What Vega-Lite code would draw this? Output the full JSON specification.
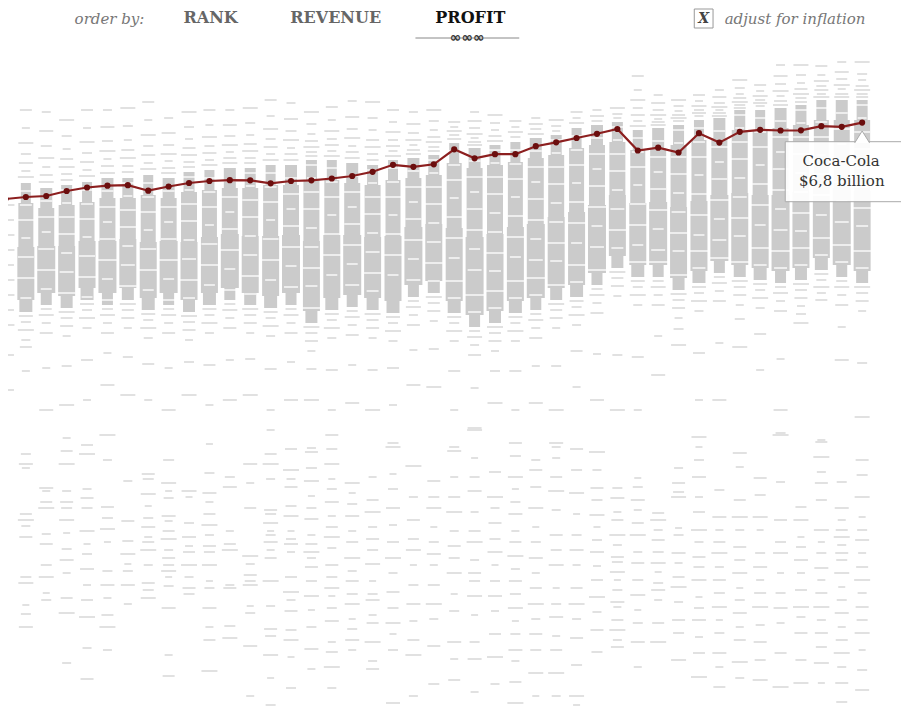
{
"$schema":"https://vega.github.io/schema/vega-lite/v6.json",
"width":893,"height":707,
"autosize":{"type":"none"},
"padding":{"left":8,"top":0,"right":0,"bottom":0},
"background":"white",
"config":{"view":{"stroke":null}},
"datasets":{
"core":[
{"yr":1964,"p":24.2,"q":22.2,"w":10},{"yr":1964,"p":22.2,"q":17.8,"w":15},{"yr":1964,"p":17.8,"q":12.5,"w":17},{"yr":1964,"p":12.5,"q":11.3,"w":13},
{"yr":1965,"p":23.7,"q":21.7,"w":12},{"yr":1965,"p":21.7,"q":17.9,"w":16},{"yr":1965,"p":17.9,"q":13.2,"w":18},{"yr":1965,"p":13.2,"q":12.0,"w":11},
{"yr":1966,"p":24.0,"q":22.0,"w":11},{"yr":1966,"p":22.0,"q":17.9,"w":16},{"yr":1966,"p":17.9,"q":12.9,"w":17},{"yr":1966,"p":12.9,"q":11.7,"w":12},
{"yr":1967,"p":24.3,"q":22.3,"w":10},{"yr":1967,"p":22.3,"q":18.4,"w":15},{"yr":1967,"p":18.4,"q":13.7,"w":17},{"yr":1967,"p":13.7,"q":12.5,"w":13},
{"yr":1968,"p":24.7,"q":22.7,"w":12},{"yr":1968,"p":22.7,"q":18.4,"w":16},{"yr":1968,"p":18.4,"q":13.2,"w":18},{"yr":1968,"p":13.2,"q":12.0,"w":11},
{"yr":1969,"p":24.7,"q":22.7,"w":11},{"yr":1969,"p":22.7,"q":18.6,"w":16},{"yr":1969,"p":18.6,"q":13.7,"w":17},{"yr":1969,"p":13.7,"q":12.5,"w":12},
{"yr":1970,"p":25.0,"q":23.0,"w":10},{"yr":1970,"p":23.0,"q":18.3,"w":15},{"yr":1970,"p":18.3,"q":12.7,"w":17},{"yr":1970,"p":12.7,"q":11.5,"w":13},
{"yr":1971,"p":24.7,"q":22.7,"w":12},{"yr":1971,"p":22.7,"q":18.4,"w":16},{"yr":1971,"p":18.4,"q":13.2,"w":18},{"yr":1971,"p":13.2,"q":12.0,"w":11},
{"yr":1972,"p":25.3,"q":23.3,"w":11},{"yr":1972,"p":23.3,"q":18.3,"w":16},{"yr":1972,"p":18.3,"q":12.5,"w":17},{"yr":1972,"p":12.5,"q":11.3,"w":12},
{"yr":1973,"p":25.5,"q":23.5,"w":10},{"yr":1973,"p":23.5,"q":18.8,"w":15},{"yr":1973,"p":18.8,"q":13.2,"w":17},{"yr":1973,"p":13.2,"q":12.0,"w":13},
{"yr":1974,"p":25.7,"q":23.7,"w":12},{"yr":1974,"p":23.7,"q":19.1,"w":16},{"yr":1974,"p":19.1,"q":13.7,"w":18},{"yr":1974,"p":13.7,"q":12.5,"w":11},
{"yr":1975,"p":25.7,"q":23.7,"w":11},{"yr":1975,"p":23.7,"q":18.9,"w":16},{"yr":1975,"p":18.9,"q":13.2,"w":17},{"yr":1975,"p":13.2,"q":12.0,"w":12},
{"yr":1976,"p":26.0,"q":24.0,"w":10},{"yr":1976,"p":24.0,"q":18.9,"w":15},{"yr":1976,"p":18.9,"q":12.9,"w":17},{"yr":1976,"p":12.9,"q":11.7,"w":13},
{"yr":1977,"p":26.0,"q":24.0,"w":12},{"yr":1977,"p":24.0,"q":19.0,"w":16},{"yr":1977,"p":19.0,"q":13.2,"w":18},{"yr":1977,"p":13.2,"q":12.0,"w":11},
{"yr":1978,"p":26.5,"q":24.5,"w":11},{"yr":1978,"p":24.5,"q":18.4,"w":16},{"yr":1978,"p":18.4,"q":11.4,"w":17},{"yr":1978,"p":11.4,"q":10.2,"w":12},
{"yr":1979,"p":26.5,"q":24.5,"w":10},{"yr":1979,"p":24.5,"q":19.0,"w":15},{"yr":1979,"p":19.0,"q":12.7,"w":17},{"yr":1979,"p":12.7,"q":11.5,"w":13},
{"yr":1980,"p":26.2,"q":24.2,"w":12},{"yr":1980,"p":24.2,"q":19.0,"w":16},{"yr":1980,"p":19.0,"q":13.0,"w":18},{"yr":1980,"p":13.0,"q":11.8,"w":11},
{"yr":1981,"p":26.0,"q":24.0,"w":11},{"yr":1981,"p":24.0,"q":18.8,"w":16},{"yr":1981,"p":18.8,"q":12.7,"w":17},{"yr":1981,"p":12.7,"q":11.5,"w":12},
{"yr":1982,"p":26.5,"q":24.5,"w":10},{"yr":1982,"p":24.5,"q":18.9,"w":15},{"yr":1982,"p":18.9,"q":12.4,"w":17},{"yr":1982,"p":12.4,"q":11.2,"w":13},
{"yr":1983,"p":26.7,"q":24.7,"w":12},{"yr":1983,"p":24.7,"q":19.8,"w":16},{"yr":1983,"p":19.8,"q":14.0,"w":18},{"yr":1983,"p":14.0,"q":12.8,"w":11},
{"yr":1984,"p":27.0,"q":25.0,"w":11},{"yr":1984,"p":25.0,"q":20.1,"w":16},{"yr":1984,"p":20.1,"q":14.4,"w":17},{"yr":1984,"p":14.4,"q":13.2,"w":12},
{"yr":1985,"p":28.2,"q":26.2,"w":10},{"yr":1985,"p":26.2,"q":19.7,"w":15},{"yr":1985,"p":19.7,"q":12.4,"w":17},{"yr":1985,"p":12.4,"q":11.2,"w":13},
{"yr":1986,"p":27.7,"q":25.7,"w":12},{"yr":1986,"p":25.7,"q":18.8,"w":16},{"yr":1986,"p":18.8,"q":11.0,"w":18},{"yr":1986,"p":11.0,"q":9.8,"w":11},
{"yr":1987,"p":28.0,"q":26.0,"w":11},{"yr":1987,"p":26.0,"q":19.1,"w":16},{"yr":1987,"p":19.1,"q":11.4,"w":17},{"yr":1987,"p":11.4,"q":10.2,"w":12},
{"yr":1988,"p":28.3,"q":26.3,"w":10},{"yr":1988,"p":26.3,"q":19.8,"w":15},{"yr":1988,"p":19.8,"q":12.4,"w":17},{"yr":1988,"p":12.4,"q":11.2,"w":13},
{"yr":1989,"p":28.7,"q":26.7,"w":12},{"yr":1989,"p":26.7,"q":20.1,"w":16},{"yr":1989,"p":20.1,"q":12.7,"w":18},{"yr":1989,"p":12.7,"q":11.5,"w":11},
{"yr":1990,"p":29.0,"q":27.0,"w":11},{"yr":1990,"p":27.0,"q":20.8,"w":16},{"yr":1990,"p":20.8,"q":13.7,"w":17},{"yr":1990,"p":13.7,"q":12.5,"w":12},
{"yr":1991,"p":29.7,"q":27.7,"w":10},{"yr":1991,"p":27.7,"q":21.3,"w":15},{"yr":1991,"p":21.3,"q":14.0,"w":17},{"yr":1991,"p":14.0,"q":12.8,"w":13},
{"yr":1992,"p":30.0,"q":28.0,"w":12},{"yr":1992,"p":28.0,"q":22.0,"w":16},{"yr":1992,"p":22.0,"q":15.2,"w":18},{"yr":1992,"p":15.2,"q":14.0,"w":11},
{"yr":1993,"p":30.3,"q":28.3,"w":11},{"yr":1993,"p":28.3,"q":23.0,"w":16},{"yr":1993,"p":23.0,"q":16.9,"w":17},{"yr":1993,"p":16.9,"q":15.7,"w":12},
{"yr":1994,"p":29.5,"q":27.5,"w":10},{"yr":1994,"p":27.5,"q":22.2,"w":15},{"yr":1994,"p":22.2,"q":16.0,"w":17},{"yr":1994,"p":16.0,"q":14.8,"w":13},
{"yr":1995,"p":29.7,"q":27.7,"w":12},{"yr":1995,"p":27.7,"q":22.3,"w":16},{"yr":1995,"p":22.3,"q":16.0,"w":18},{"yr":1995,"p":16.0,"q":14.8,"w":11},
{"yr":1996,"p":30.0,"q":28.0,"w":11},{"yr":1996,"p":28.0,"q":21.8,"w":16},{"yr":1996,"p":21.8,"q":14.7,"w":17},{"yr":1996,"p":14.7,"q":13.5,"w":12},
{"yr":1997,"p":30.5,"q":28.5,"w":10},{"yr":1997,"p":28.5,"q":22.4,"w":15},{"yr":1997,"p":22.4,"q":15.4,"w":17},{"yr":1997,"p":15.4,"q":14.2,"w":13},
{"yr":1998,"p":30.7,"q":28.7,"w":12},{"yr":1998,"p":28.7,"q":23.0,"w":16},{"yr":1998,"p":23.0,"q":16.4,"w":18},{"yr":1998,"p":16.4,"q":15.2,"w":11},
{"yr":1999,"p":31.5,"q":29.5,"w":11},{"yr":1999,"p":29.5,"q":23.2,"w":16},{"yr":1999,"p":23.2,"q":16.0,"w":17},{"yr":1999,"p":16.0,"q":14.8,"w":12},
{"yr":2000,"p":31.5,"q":29.5,"w":10},{"yr":2000,"p":29.5,"q":23.0,"w":15},{"yr":2000,"p":23.0,"q":15.7,"w":17},{"yr":2000,"p":15.7,"q":14.5,"w":13},
{"yr":2001,"p":31.7,"q":29.7,"w":12},{"yr":2001,"p":29.7,"q":23.0,"w":16},{"yr":2001,"p":23.0,"q":15.4,"w":18},{"yr":2001,"p":15.4,"q":14.2,"w":11},
{"yr":2002,"p":32.0,"q":30.0,"w":11},{"yr":2002,"p":30.0,"q":23.3,"w":16},{"yr":2002,"p":23.3,"q":15.7,"w":17},{"yr":2002,"p":15.7,"q":14.5,"w":12},
{"yr":2003,"p":32.5,"q":30.5,"w":10},{"yr":2003,"p":30.5,"q":24.0,"w":15},{"yr":2003,"p":24.0,"q":16.7,"w":17},{"yr":2003,"p":16.7,"q":15.5,"w":13},
{"yr":2004,"p":32.5,"q":30.5,"w":12},{"yr":2004,"p":30.5,"q":23.7,"w":16},{"yr":2004,"p":23.7,"q":16.0,"w":18},{"yr":2004,"p":16.0,"q":14.8,"w":11},
{"yr":2005,"p":32.5,"q":30.5,"w":11},{"yr":2005,"p":30.5,"q":23.4,"w":16},{"yr":2005,"p":23.4,"q":15.4,"w":17},{"yr":2005,"p":15.4,"q":14.2,"w":12}
],
"stripe":[
{"yr":1964,"p":23.4,"w":18},{"yr":1964,"p":22.0,"w":12},{"yr":1964,"p":20.5,"w":20},{"yr":1964,"p":18.7,"w":9},{"yr":1964,"p":16.8,"w":16},{"yr":1964,"p":14.7,"w":20},{"yr":1964,"p":12.7,"w":11},
{"yr":1965,"p":22.4,"w":12},{"yr":1965,"p":20.8,"w":20},{"yr":1965,"p":19.3,"w":9},{"yr":1965,"p":17.6,"w":16},{"yr":1965,"p":15.5,"w":20},{"yr":1965,"p":13.6,"w":11},
{"yr":1966,"p":23.5,"w":20},{"yr":1966,"p":22.2,"w":9},{"yr":1966,"p":20.8,"w":16},{"yr":1966,"p":19.1,"w":20},{"yr":1966,"p":17.2,"w":11},{"yr":1966,"p":15.3,"w":14},{"yr":1966,"p":13.2,"w":18},
{"yr":1967,"p":23.5,"w":18},{"yr":1967,"p":22.1,"w":12},{"yr":1967,"p":20.6,"w":20},{"yr":1967,"p":18.8,"w":9},{"yr":1967,"p":16.9,"w":16},{"yr":1967,"p":14.8,"w":20},{"yr":1967,"p":12.8,"w":11},
{"yr":1968,"p":23.4,"w":12},{"yr":1968,"p":21.8,"w":20},{"yr":1968,"p":20.3,"w":9},{"yr":1968,"p":18.6,"w":16},{"yr":1968,"p":16.5,"w":20},{"yr":1968,"p":14.6,"w":11},{"yr":1968,"p":12.5,"w":14},
{"yr":1969,"p":24.2,"w":20},{"yr":1969,"p":22.9,"w":9},{"yr":1969,"p":21.5,"w":16},{"yr":1969,"p":19.8,"w":20},{"yr":1969,"p":17.9,"w":11},{"yr":1969,"p":16.0,"w":14},{"yr":1969,"p":13.9,"w":18},
{"yr":1970,"p":24.2,"w":18},{"yr":1970,"p":22.8,"w":12},{"yr":1970,"p":21.3,"w":20},{"yr":1970,"p":19.5,"w":9},{"yr":1970,"p":17.6,"w":16},{"yr":1970,"p":15.5,"w":20},{"yr":1970,"p":13.5,"w":11},
{"yr":1971,"p":23.4,"w":12},{"yr":1971,"p":21.8,"w":20},{"yr":1971,"p":20.3,"w":9},{"yr":1971,"p":18.6,"w":16},{"yr":1971,"p":16.5,"w":20},{"yr":1971,"p":14.6,"w":11},{"yr":1971,"p":12.5,"w":14},
{"yr":1972,"p":24.8,"w":20},{"yr":1972,"p":23.5,"w":9},{"yr":1972,"p":22.1,"w":16},{"yr":1972,"p":20.4,"w":20},{"yr":1972,"p":18.5,"w":11},{"yr":1972,"p":16.6,"w":14},{"yr":1972,"p":14.5,"w":18},{"yr":1972,"p":12.7,"w":12},
{"yr":1973,"p":24.7,"w":18},{"yr":1973,"p":23.3,"w":12},{"yr":1973,"p":21.8,"w":20},{"yr":1973,"p":20.0,"w":9},{"yr":1973,"p":18.1,"w":16},{"yr":1973,"p":16.0,"w":20},{"yr":1973,"p":14.0,"w":11},
{"yr":1974,"p":24.4,"w":12},{"yr":1974,"p":22.8,"w":20},{"yr":1974,"p":21.3,"w":9},{"yr":1974,"p":19.6,"w":16},{"yr":1974,"p":17.5,"w":20},{"yr":1974,"p":15.6,"w":11},{"yr":1974,"p":13.5,"w":14},
{"yr":1975,"p":25.2,"w":20},{"yr":1975,"p":23.9,"w":9},{"yr":1975,"p":22.5,"w":16},{"yr":1975,"p":20.8,"w":20},{"yr":1975,"p":18.9,"w":11},{"yr":1975,"p":17.0,"w":14},{"yr":1975,"p":14.9,"w":18},{"yr":1975,"p":13.1,"w":12},
{"yr":1976,"p":25.2,"w":18},{"yr":1976,"p":23.8,"w":12},{"yr":1976,"p":22.3,"w":20},{"yr":1976,"p":20.5,"w":9},{"yr":1976,"p":18.6,"w":16},{"yr":1976,"p":16.5,"w":20},{"yr":1976,"p":14.5,"w":11},
{"yr":1977,"p":24.7,"w":12},{"yr":1977,"p":23.1,"w":20},{"yr":1977,"p":21.6,"w":9},{"yr":1977,"p":19.9,"w":16},{"yr":1977,"p":17.8,"w":20},{"yr":1977,"p":15.9,"w":11},{"yr":1977,"p":13.8,"w":14},
{"yr":1978,"p":26.0,"w":20},{"yr":1978,"p":24.7,"w":9},{"yr":1978,"p":23.3,"w":16},{"yr":1978,"p":21.6,"w":20},{"yr":1978,"p":19.7,"w":11},{"yr":1978,"p":17.8,"w":14},{"yr":1978,"p":15.7,"w":18},{"yr":1978,"p":13.9,"w":12},{"yr":1978,"p":11.7,"w":20},
{"yr":1979,"p":25.7,"w":18},{"yr":1979,"p":24.3,"w":12},{"yr":1979,"p":22.8,"w":20},{"yr":1979,"p":21.0,"w":9},{"yr":1979,"p":19.1,"w":16},{"yr":1979,"p":17.0,"w":20},{"yr":1979,"p":15.0,"w":11},
{"yr":1980,"p":24.9,"w":12},{"yr":1980,"p":23.3,"w":20},{"yr":1980,"p":21.8,"w":9},{"yr":1980,"p":20.1,"w":16},{"yr":1980,"p":18.0,"w":20},{"yr":1980,"p":16.1,"w":11},{"yr":1980,"p":14.0,"w":14},
{"yr":1981,"p":25.5,"w":20},{"yr":1981,"p":24.2,"w":9},{"yr":1981,"p":22.8,"w":16},{"yr":1981,"p":21.1,"w":20},{"yr":1981,"p":19.2,"w":11},{"yr":1981,"p":17.3,"w":14},{"yr":1981,"p":15.2,"w":18},{"yr":1981,"p":13.4,"w":12},
{"yr":1982,"p":25.7,"w":18},{"yr":1982,"p":24.3,"w":12},{"yr":1982,"p":22.8,"w":20},{"yr":1982,"p":21.0,"w":9},{"yr":1982,"p":19.1,"w":16},{"yr":1982,"p":17.0,"w":20},{"yr":1982,"p":15.0,"w":11},
{"yr":1983,"p":25.4,"w":12},{"yr":1983,"p":23.8,"w":20},{"yr":1983,"p":22.3,"w":9},{"yr":1983,"p":20.6,"w":16},{"yr":1983,"p":18.5,"w":20},{"yr":1983,"p":16.6,"w":11},{"yr":1983,"p":14.5,"w":14},
{"yr":1984,"p":26.5,"w":20},{"yr":1984,"p":25.2,"w":9},{"yr":1984,"p":23.8,"w":16},{"yr":1984,"p":22.1,"w":20},{"yr":1984,"p":20.2,"w":11},{"yr":1984,"p":18.3,"w":14},{"yr":1984,"p":16.2,"w":18},{"yr":1984,"p":14.4,"w":12},
{"yr":1985,"p":27.4,"w":18},{"yr":1985,"p":26.0,"w":12},{"yr":1985,"p":24.5,"w":20},{"yr":1985,"p":22.7,"w":9},{"yr":1985,"p":20.8,"w":16},{"yr":1985,"p":18.7,"w":20},{"yr":1985,"p":16.7,"w":11},{"yr":1985,"p":14.4,"w":20},{"yr":1985,"p":12.7,"w":13},
{"yr":1986,"p":26.4,"w":12},{"yr":1986,"p":24.8,"w":20},{"yr":1986,"p":23.3,"w":9},{"yr":1986,"p":21.6,"w":16},{"yr":1986,"p":19.5,"w":20},{"yr":1986,"p":17.6,"w":11},{"yr":1986,"p":15.5,"w":14},{"yr":1986,"p":13.0,"w":20},{"yr":1986,"p":11.3,"w":13},
{"yr":1987,"p":27.5,"w":20},{"yr":1987,"p":26.2,"w":9},{"yr":1987,"p":24.8,"w":16},{"yr":1987,"p":23.1,"w":20},{"yr":1987,"p":21.2,"w":11},{"yr":1987,"p":19.3,"w":14},{"yr":1987,"p":17.2,"w":18},{"yr":1987,"p":15.4,"w":12},{"yr":1987,"p":13.4,"w":20},{"yr":1987,"p":11.7,"w":13},
{"yr":1988,"p":27.5,"w":18},{"yr":1988,"p":26.1,"w":12},{"yr":1988,"p":24.6,"w":20},{"yr":1988,"p":22.8,"w":9},{"yr":1988,"p":20.9,"w":16},{"yr":1988,"p":18.8,"w":20},{"yr":1988,"p":16.8,"w":11},{"yr":1988,"p":14.4,"w":20},{"yr":1988,"p":12.7,"w":13},
{"yr":1989,"p":27.4,"w":12},{"yr":1989,"p":25.8,"w":20},{"yr":1989,"p":24.3,"w":9},{"yr":1989,"p":22.6,"w":16},{"yr":1989,"p":20.5,"w":20},{"yr":1989,"p":18.6,"w":11},{"yr":1989,"p":16.5,"w":14},{"yr":1989,"p":14.7,"w":20},{"yr":1989,"p":13.0,"w":13},
{"yr":1990,"p":28.5,"w":20},{"yr":1990,"p":27.2,"w":9},{"yr":1990,"p":25.8,"w":16},{"yr":1990,"p":24.1,"w":20},{"yr":1990,"p":22.2,"w":11},{"yr":1990,"p":20.3,"w":14},{"yr":1990,"p":18.2,"w":18},{"yr":1990,"p":16.4,"w":12},{"yr":1990,"p":14.0,"w":20},
{"yr":1991,"p":28.9,"w":18},{"yr":1991,"p":27.5,"w":12},{"yr":1991,"p":26.0,"w":20},{"yr":1991,"p":24.2,"w":9},{"yr":1991,"p":22.3,"w":16},{"yr":1991,"p":20.2,"w":20},{"yr":1991,"p":18.2,"w":11},{"yr":1991,"p":16.0,"w":20},{"yr":1991,"p":14.3,"w":13},
{"yr":1992,"p":28.7,"w":12},{"yr":1992,"p":27.1,"w":20},{"yr":1992,"p":25.6,"w":9},{"yr":1992,"p":23.9,"w":16},{"yr":1992,"p":21.8,"w":20},{"yr":1992,"p":19.9,"w":11},{"yr":1992,"p":17.8,"w":14},{"yr":1992,"p":15.5,"w":20},
{"yr":1993,"p":29.8,"w":20},{"yr":1993,"p":28.5,"w":9},{"yr":1993,"p":27.1,"w":16},{"yr":1993,"p":25.4,"w":20},{"yr":1993,"p":23.5,"w":11},{"yr":1993,"p":21.6,"w":14},{"yr":1993,"p":19.5,"w":18},{"yr":1993,"p":17.7,"w":12},
{"yr":1994,"p":28.7,"w":18},{"yr":1994,"p":27.3,"w":12},{"yr":1994,"p":25.8,"w":20},{"yr":1994,"p":24.0,"w":9},{"yr":1994,"p":22.1,"w":16},{"yr":1994,"p":20.0,"w":20},{"yr":1994,"p":18.0,"w":11},{"yr":1994,"p":16.3,"w":20},
{"yr":1995,"p":28.4,"w":12},{"yr":1995,"p":26.8,"w":20},{"yr":1995,"p":25.3,"w":9},{"yr":1995,"p":23.6,"w":16},{"yr":1995,"p":21.5,"w":20},{"yr":1995,"p":19.6,"w":11},{"yr":1995,"p":17.5,"w":14},{"yr":1995,"p":16.3,"w":20},
{"yr":1996,"p":29.5,"w":20},{"yr":1996,"p":28.2,"w":9},{"yr":1996,"p":26.8,"w":16},{"yr":1996,"p":25.1,"w":20},{"yr":1996,"p":23.2,"w":11},{"yr":1996,"p":21.3,"w":14},{"yr":1996,"p":19.2,"w":18},{"yr":1996,"p":17.4,"w":12},{"yr":1996,"p":15.0,"w":20},
{"yr":1997,"p":29.7,"w":18},{"yr":1997,"p":28.3,"w":12},{"yr":1997,"p":26.8,"w":20},{"yr":1997,"p":25.0,"w":9},{"yr":1997,"p":23.1,"w":16},{"yr":1997,"p":21.0,"w":20},{"yr":1997,"p":19.0,"w":11},{"yr":1997,"p":17.4,"w":20},{"yr":1997,"p":15.7,"w":13},
{"yr":1998,"p":29.4,"w":12},{"yr":1998,"p":27.8,"w":20},{"yr":1998,"p":26.3,"w":9},{"yr":1998,"p":24.6,"w":16},{"yr":1998,"p":22.5,"w":20},{"yr":1998,"p":20.6,"w":11},{"yr":1998,"p":18.5,"w":14},{"yr":1998,"p":16.7,"w":20},
{"yr":1999,"p":31.0,"w":20},{"yr":1999,"p":29.7,"w":9},{"yr":1999,"p":28.3,"w":16},{"yr":1999,"p":26.6,"w":20},{"yr":1999,"p":24.7,"w":11},{"yr":1999,"p":22.8,"w":14},{"yr":1999,"p":20.7,"w":18},{"yr":1999,"p":18.9,"w":12},{"yr":1999,"p":16.3,"w":20},
{"yr":2000,"p":30.7,"w":18},{"yr":2000,"p":29.3,"w":12},{"yr":2000,"p":27.8,"w":20},{"yr":2000,"p":26.0,"w":9},{"yr":2000,"p":24.1,"w":16},{"yr":2000,"p":22.0,"w":20},{"yr":2000,"p":20.0,"w":11},{"yr":2000,"p":17.7,"w":20},{"yr":2000,"p":16.0,"w":13},
{"yr":2001,"p":30.4,"w":12},{"yr":2001,"p":28.8,"w":20},{"yr":2001,"p":27.3,"w":9},{"yr":2001,"p":25.6,"w":16},{"yr":2001,"p":23.5,"w":20},{"yr":2001,"p":21.6,"w":11},{"yr":2001,"p":19.5,"w":14},{"yr":2001,"p":17.4,"w":20},{"yr":2001,"p":15.7,"w":13},
{"yr":2002,"p":31.5,"w":20},{"yr":2002,"p":30.2,"w":9},{"yr":2002,"p":28.8,"w":16},{"yr":2002,"p":27.1,"w":20},{"yr":2002,"p":25.2,"w":11},{"yr":2002,"p":23.3,"w":14},{"yr":2002,"p":21.2,"w":18},{"yr":2002,"p":19.4,"w":12},{"yr":2002,"p":17.7,"w":20},{"yr":2002,"p":16.0,"w":13},
{"yr":2003,"p":31.7,"w":18},{"yr":2003,"p":30.3,"w":12},{"yr":2003,"p":28.8,"w":20},{"yr":2003,"p":27.0,"w":9},{"yr":2003,"p":25.1,"w":16},{"yr":2003,"p":23.0,"w":20},{"yr":2003,"p":21.0,"w":11},{"yr":2003,"p":18.7,"w":20},{"yr":2003,"p":17.0,"w":13},
{"yr":2004,"p":31.2,"w":12},{"yr":2004,"p":29.6,"w":20},{"yr":2004,"p":28.1,"w":9},{"yr":2004,"p":26.4,"w":16},{"yr":2004,"p":24.3,"w":20},{"yr":2004,"p":22.4,"w":11},{"yr":2004,"p":20.3,"w":14},{"yr":2004,"p":18.0,"w":20},{"yr":2004,"p":16.3,"w":13},
{"yr":2005,"p":32.0,"w":20},{"yr":2005,"p":30.7,"w":9},{"yr":2005,"p":29.3,"w":16},{"yr":2005,"p":27.6,"w":20},{"yr":2005,"p":25.7,"w":11},{"yr":2005,"p":23.8,"w":14},{"yr":2005,"p":21.7,"w":18},{"yr":2005,"p":19.9,"w":12},{"yr":2005,"p":17.4,"w":20},{"yr":2005,"p":15.7,"w":13}
],
"dash":[
{"yr":1963,"p":22.0,"w":18},{"yr":1963,"p":20.5,"w":17},{"yr":1963,"p":19.0,"w":18},{"yr":1963,"p":17.5,"w":18},{"yr":1963,"p":16.0,"w":17},{"yr":1963,"p":14.5,"w":18},{"yr":1963,"p":13.0,"w":18},{"yr":1963,"p":11.5,"w":17},{"yr":1963,"p":10.0,"w":18},{"yr":1963,"p":7.0,"w":17},{"yr":1963,"p":3.5,"w":17},
{"yr":1964,"p":31.5,"w":12},{"yr":1964,"p":29.7,"w":8},{"yr":1964,"p":28.2,"w":15},{"yr":1964,"p":27.1,"w":10},{"yr":1964,"p":26.2,"w":14},{"yr":1964,"p":25.4,"w":9},{"yr":1964,"p":24.8,"w":16},
{"yr":1964,"p":10.9,"w":14},{"yr":1964,"p":10.3,"w":10},{"yr":1964,"p":9.5,"w":16},{"yr":1964,"p":8.5,"w":9},{"yr":1964,"p":7.8,"w":12},{"yr":1964,"p":5.4,"w":8},
{"yr":1964,"p":-2.9,"w":10},{"yr":1964,"p":-3.9,"w":14},{"yr":1964,"p":-4.3,"w":8},{"yr":1964,"p":-8.9,"w":12},{"yr":1964,"p":-9.5,"w":16},{"yr":1964,"p":-10.1,"w":9},{"yr":1964,"p":-11.2,"w":13},{"yr":1964,"p":-15.2,"w":11},{"yr":1964,"p":-15.8,"w":15},{"yr":1964,"p":-18.0,"w":7},{"yr":1964,"p":-18.9,"w":10},{"yr":1964,"p":-20.2,"w":14},
{"yr":1965,"p":31.3,"w":9},{"yr":1965,"p":29.4,"w":14},{"yr":1965,"p":27.9,"w":11},{"yr":1965,"p":26.7,"w":16},{"yr":1965,"p":25.8,"w":8},{"yr":1965,"p":25.0,"w":13},{"yr":1965,"p":24.3,"w":15},
{"yr":1965,"p":11.6,"w":11},{"yr":1965,"p":11.0,"w":15},{"yr":1965,"p":10.2,"w":9},{"yr":1965,"p":9.2,"w":13},{"yr":1965,"p":5.7,"w":8},{"yr":1965,"p":1.5,"w":14},
{"yr":1965,"p":-6.3,"w":14},{"yr":1965,"p":-6.6,"w":8},{"yr":1965,"p":-7.7,"w":12},{"yr":1965,"p":-8.3,"w":16},{"yr":1965,"p":-10.9,"w":9},{"yr":1965,"p":-11.9,"w":13},{"yr":1965,"p":-14.0,"w":11},{"yr":1965,"p":-15.2,"w":15},{"yr":1965,"p":-16.8,"w":7},{"yr":1965,"p":-17.5,"w":10},
{"yr":1966,"p":30.5,"w":15},{"yr":1966,"p":28.9,"w":10},{"yr":1966,"p":27.6,"w":8},{"yr":1966,"p":26.6,"w":13},{"yr":1966,"p":25.8,"w":16},{"yr":1966,"p":25.1,"w":11},{"yr":1966,"p":24.5,"w":12},
{"yr":1966,"p":11.3,"w":16},{"yr":1966,"p":10.7,"w":12},{"yr":1966,"p":9.9,"w":13},{"yr":1966,"p":8.9,"w":8},{"yr":1966,"p":5.9,"w":10},{"yr":1966,"p":2.0,"w":15},
{"yr":1966,"p":-1.3,"w":8},{"yr":1966,"p":-2.6,"w":12},{"yr":1966,"p":-3.9,"w":16},{"yr":1966,"p":-6.6,"w":9},{"yr":1966,"p":-7.7,"w":13},{"yr":1966,"p":-8.3,"w":11},{"yr":1966,"p":-9.5,"w":15},{"yr":1966,"p":-10.8,"w":7},{"yr":1966,"p":-12.4,"w":10},{"yr":1966,"p":-13.5,"w":14},{"yr":1966,"p":-14.8,"w":8},{"yr":1966,"p":-17.3,"w":12},{"yr":1966,"p":-18.8,"w":16},{"yr":1966,"p":-23.8,"w":9},
{"yr":1967,"p":31.5,"w":12},{"yr":1967,"p":29.7,"w":8},{"yr":1967,"p":28.3,"w":15},{"yr":1967,"p":27.2,"w":10},{"yr":1967,"p":26.3,"w":14},{"yr":1967,"p":25.5,"w":9},{"yr":1967,"p":24.9,"w":16},
{"yr":1967,"p":12.1,"w":14},{"yr":1967,"p":11.5,"w":10},{"yr":1967,"p":10.7,"w":16},{"yr":1967,"p":9.7,"w":9},{"yr":1967,"p":6.5,"w":12},{"yr":1967,"p":2.5,"w":8},
{"yr":1967,"p":-2.0,"w":12},{"yr":1967,"p":-2.9,"w":16},{"yr":1967,"p":-6.4,"w":9},{"yr":1967,"p":-7.3,"w":13},{"yr":1967,"p":-8.3,"w":11},{"yr":1967,"p":-10.6,"w":15},{"yr":1967,"p":-11.9,"w":7},{"yr":1967,"p":-12.9,"w":10},{"yr":1967,"p":-14.4,"w":14},{"yr":1967,"p":-16.0,"w":8},{"yr":1967,"p":-17.5,"w":12},{"yr":1967,"p":-19.2,"w":16},{"yr":1967,"p":-22.3,"w":9},{"yr":1967,"p":-25.4,"w":13},
{"yr":1968,"p":31.5,"w":9},{"yr":1968,"p":29.8,"w":14},{"yr":1968,"p":28.4,"w":11},{"yr":1968,"p":27.4,"w":16},{"yr":1968,"p":26.6,"w":8},{"yr":1968,"p":25.9,"w":13},{"yr":1968,"p":25.2,"w":15},
{"yr":1968,"p":11.6,"w":11},{"yr":1968,"p":11.0,"w":15},{"yr":1968,"p":10.2,"w":9},{"yr":1968,"p":9.2,"w":13},{"yr":1968,"p":7.2,"w":8},{"yr":1968,"p":4.0,"w":14},
{"yr":1968,"p":-1.0,"w":16},{"yr":1968,"p":-3.5,"w":9},{"yr":1968,"p":-8.2,"w":13},{"yr":1968,"p":-9.3,"w":11},{"yr":1968,"p":-10.4,"w":15},{"yr":1968,"p":-11.7,"w":7},{"yr":1968,"p":-14.6,"w":10},{"yr":1968,"p":-16.0,"w":14},{"yr":1968,"p":-17.3,"w":8},{"yr":1968,"p":-19.0,"w":12},{"yr":1968,"p":-20.2,"w":16},{"yr":1968,"p":-22.5,"w":9},
{"yr":1969,"p":31.7,"w":15},{"yr":1969,"p":29.9,"w":10},{"yr":1969,"p":28.5,"w":8},{"yr":1969,"p":27.5,"w":13},{"yr":1969,"p":26.7,"w":16},{"yr":1969,"p":25.9,"w":11},{"yr":1969,"p":25.3,"w":12},
{"yr":1969,"p":12.1,"w":16},{"yr":1969,"p":11.5,"w":12},{"yr":1969,"p":10.7,"w":13},{"yr":1969,"p":9.7,"w":8},{"yr":1969,"p":6.8,"w":10},{"yr":1969,"p":3.0,"w":15},
{"yr":1969,"p":-5.6,"w":9},{"yr":1969,"p":-9.6,"w":13},{"yr":1969,"p":-11.6,"w":11},{"yr":1969,"p":-12.9,"w":15},{"yr":1969,"p":-13.9,"w":7},{"yr":1969,"p":-14.6,"w":10},{"yr":1969,"p":-16.0,"w":14},{"yr":1969,"p":-17.9,"w":8},
{"yr":1970,"p":32.3,"w":12},{"yr":1970,"p":30.5,"w":8},{"yr":1970,"p":29.0,"w":15},{"yr":1970,"p":27.9,"w":10},{"yr":1970,"p":27.0,"w":14},{"yr":1970,"p":26.2,"w":9},{"yr":1970,"p":25.6,"w":16},
{"yr":1970,"p":11.1,"w":14},{"yr":1970,"p":10.5,"w":10},{"yr":1970,"p":9.7,"w":16},{"yr":1970,"p":8.7,"w":9},{"yr":1970,"p":6.1,"w":12},{"yr":1970,"p":2.5,"w":8},
{"yr":1970,"p":-4.9,"w":13},{"yr":1970,"p":-5.4,"w":11},{"yr":1970,"p":-6.9,"w":15},{"yr":1970,"p":-8.1,"w":7},{"yr":1970,"p":-9.3,"w":10},{"yr":1970,"p":-10.2,"w":14},{"yr":1970,"p":-11.2,"w":8},{"yr":1970,"p":-11.7,"w":12},{"yr":1970,"p":-12.5,"w":16},{"yr":1970,"p":-14.0,"w":9},{"yr":1970,"p":-15.8,"w":13},{"yr":1970,"p":-16.5,"w":11},{"yr":1970,"p":-17.3,"w":15},
{"yr":1971,"p":30.7,"w":9},{"yr":1971,"p":29.2,"w":14},{"yr":1971,"p":28.0,"w":11},{"yr":1971,"p":27.1,"w":16},{"yr":1971,"p":26.4,"w":8},{"yr":1971,"p":25.7,"w":13},{"yr":1971,"p":25.2,"w":15},
{"yr":1971,"p":11.6,"w":11},{"yr":1971,"p":11.0,"w":15},{"yr":1971,"p":10.2,"w":9},{"yr":1971,"p":9.2,"w":13},{"yr":1971,"p":5.7,"w":8},{"yr":1971,"p":1.5,"w":14},
{"yr":1971,"p":-3.5,"w":11},{"yr":1971,"p":-5.8,"w":15},{"yr":1971,"p":-6.6,"w":7},{"yr":1971,"p":-7.3,"w":10},{"yr":1971,"p":-9.1,"w":14},{"yr":1971,"p":-9.6,"w":8},{"yr":1971,"p":-10.6,"w":12},{"yr":1971,"p":-11.4,"w":16},{"yr":1971,"p":-12.5,"w":9},{"yr":1971,"p":-13.3,"w":13},{"yr":1971,"p":-14.0,"w":11},{"yr":1971,"p":-14.6,"w":15},{"yr":1971,"p":-15.2,"w":7},{"yr":1971,"p":-16.1,"w":10},{"yr":1971,"p":-18.3,"w":14},{"yr":1971,"p":-23.0,"w":8},{"yr":1971,"p":-25.1,"w":12},
{"yr":1972,"p":31.3,"w":15},{"yr":1972,"p":29.8,"w":10},{"yr":1972,"p":28.6,"w":8},{"yr":1972,"p":27.7,"w":13},{"yr":1972,"p":27.0,"w":16},{"yr":1972,"p":26.3,"w":11},{"yr":1972,"p":25.8,"w":12},
{"yr":1972,"p":10.9,"w":16},{"yr":1972,"p":10.3,"w":12},{"yr":1972,"p":9.5,"w":13},{"yr":1972,"p":8.5,"w":8},{"yr":1972,"p":6.3,"w":10},{"yr":1972,"p":3.0,"w":15},
{"yr":1972,"p":-6.6,"w":15},{"yr":1972,"p":-7.2,"w":7},{"yr":1972,"p":-9.8,"w":10},{"yr":1972,"p":-11.2,"w":14},{"yr":1972,"p":-12.1,"w":8},{"yr":1972,"p":-12.7,"w":12},{"yr":1972,"p":-14.0,"w":16},{"yr":1972,"p":-15.2,"w":9},{"yr":1972,"p":-16.3,"w":13},{"yr":1972,"p":-16.9,"w":11},
{"yr":1973,"p":31.5,"w":12},{"yr":1973,"p":30.0,"w":8},{"yr":1973,"p":28.8,"w":15},{"yr":1973,"p":27.9,"w":10},{"yr":1973,"p":27.2,"w":14},{"yr":1973,"p":26.5,"w":9},{"yr":1973,"p":26.0,"w":16},
{"yr":1973,"p":11.6,"w":14},{"yr":1973,"p":11.0,"w":10},{"yr":1973,"p":10.2,"w":16},{"yr":1973,"p":9.2,"w":9},{"yr":1973,"p":6.0,"w":12},{"yr":1973,"p":2.0,"w":8},
{"yr":1973,"p":-1.9,"w":7},{"yr":1973,"p":-4.8,"w":10},{"yr":1973,"p":-6.8,"w":14},{"yr":1973,"p":-7.7,"w":8},{"yr":1973,"p":-8.9,"w":12},{"yr":1973,"p":-10.0,"w":16},{"yr":1973,"p":-11.0,"w":9},{"yr":1973,"p":-12.1,"w":13},{"yr":1973,"p":-12.7,"w":11},{"yr":1973,"p":-14.0,"w":15},{"yr":1973,"p":-15.6,"w":7},{"yr":1973,"p":-16.3,"w":10},{"yr":1973,"p":-18.3,"w":14},{"yr":1973,"p":-20.2,"w":8},{"yr":1973,"p":-21.5,"w":12},{"yr":1973,"p":-24.6,"w":16},
{"yr":1974,"p":31.5,"w":9},{"yr":1974,"p":30.0,"w":14},{"yr":1974,"p":28.9,"w":11},{"yr":1974,"p":28.0,"w":16},{"yr":1974,"p":27.3,"w":8},{"yr":1974,"p":26.7,"w":13},{"yr":1974,"p":26.2,"w":15},
{"yr":1974,"p":12.1,"w":11},{"yr":1974,"p":11.5,"w":15},{"yr":1974,"p":10.7,"w":9},{"yr":1974,"p":9.7,"w":13},{"yr":1974,"p":6.5,"w":8},{"yr":1974,"p":2.5,"w":14},
{"yr":1974,"p":-5.2,"w":10},{"yr":1974,"p":-6.2,"w":14},{"yr":1974,"p":-10.6,"w":8},{"yr":1974,"p":-11.9,"w":12},{"yr":1974,"p":-12.5,"w":16},{"yr":1974,"p":-16.0,"w":9},{"yr":1974,"p":-16.3,"w":13},{"yr":1974,"p":-20.1,"w":11},{"yr":1974,"p":-21.3,"w":15},
{"yr":1975,"p":31.7,"w":15},{"yr":1975,"p":30.2,"w":10},{"yr":1975,"p":29.0,"w":8},{"yr":1975,"p":28.1,"w":13},{"yr":1975,"p":27.4,"w":16},{"yr":1975,"p":26.7,"w":11},{"yr":1975,"p":26.2,"w":12},
{"yr":1975,"p":11.6,"w":16},{"yr":1975,"p":11.0,"w":12},{"yr":1975,"p":10.2,"w":13},{"yr":1975,"p":9.2,"w":8},{"yr":1975,"p":6.6,"w":10},{"yr":1975,"p":3.0,"w":15},
{"yr":1975,"p":-3.9,"w":14},{"yr":1975,"p":-5.8,"w":8},{"yr":1975,"p":-8.3,"w":12},{"yr":1975,"p":-13.1,"w":16},{"yr":1975,"p":-13.9,"w":9},{"yr":1975,"p":-15.0,"w":13},{"yr":1975,"p":-15.6,"w":11},{"yr":1975,"p":-16.0,"w":15},{"yr":1975,"p":-18.1,"w":7},{"yr":1975,"p":-18.8,"w":10},{"yr":1975,"p":-22.1,"w":14},{"yr":1975,"p":-27.1,"w":8},
{"yr":1976,"p":32.5,"w":12},{"yr":1976,"p":30.9,"w":8},{"yr":1976,"p":29.6,"w":15},{"yr":1976,"p":28.6,"w":10},{"yr":1976,"p":27.8,"w":14},{"yr":1976,"p":27.1,"w":9},{"yr":1976,"p":26.5,"w":16},
{"yr":1976,"p":11.3,"w":14},{"yr":1976,"p":10.7,"w":10},{"yr":1976,"p":9.9,"w":16},{"yr":1976,"p":8.9,"w":9},{"yr":1976,"p":5.6,"w":12},{"yr":1976,"p":1.5,"w":8},
{"yr":1976,"p":-0.5,"w":8},{"yr":1976,"p":-2.9,"w":12},{"yr":1976,"p":-3.9,"w":16},{"yr":1976,"p":-5.4,"w":9},{"yr":1976,"p":-8.5,"w":13},{"yr":1976,"p":-8.9,"w":11},{"yr":1976,"p":-9.8,"w":15},{"yr":1976,"p":-10.6,"w":7},{"yr":1976,"p":-11.0,"w":10},{"yr":1976,"p":-11.7,"w":14},{"yr":1976,"p":-12.5,"w":8},{"yr":1976,"p":-13.3,"w":12},{"yr":1976,"p":-15.6,"w":16},{"yr":1976,"p":-18.1,"w":9},{"yr":1976,"p":-20.4,"w":13},{"yr":1976,"p":-21.1,"w":11},{"yr":1976,"p":-23.0,"w":15},{"yr":1976,"p":-25.3,"w":7},{"yr":1976,"p":-28.0,"w":10},
{"yr":1977,"p":32.2,"w":9},{"yr":1977,"p":30.6,"w":14},{"yr":1977,"p":29.4,"w":11},{"yr":1977,"p":28.5,"w":16},{"yr":1977,"p":27.7,"w":8},{"yr":1977,"p":27.1,"w":13},{"yr":1977,"p":26.5,"w":15},
{"yr":1977,"p":11.6,"w":11},{"yr":1977,"p":11.0,"w":15},{"yr":1977,"p":10.2,"w":9},{"yr":1977,"p":9.2,"w":13},{"yr":1977,"p":6.3,"w":8},{"yr":1977,"p":2.5,"w":14},
{"yr":1977,"p":-2.4,"w":12},{"yr":1977,"p":-4.5,"w":16},{"yr":1977,"p":-5.4,"w":9},{"yr":1977,"p":-6.2,"w":13},{"yr":1977,"p":-8.1,"w":11},{"yr":1977,"p":-9.1,"w":15},{"yr":1977,"p":-10.6,"w":7},{"yr":1977,"p":-11.4,"w":10},{"yr":1977,"p":-11.9,"w":14},{"yr":1977,"p":-12.7,"w":8},{"yr":1977,"p":-15.2,"w":12},{"yr":1977,"p":-16.7,"w":16},{"yr":1977,"p":-17.5,"w":9},{"yr":1977,"p":-18.6,"w":13},{"yr":1977,"p":-20.5,"w":11},{"yr":1977,"p":-21.5,"w":15},{"yr":1977,"p":-23.2,"w":7},{"yr":1977,"p":-26.3,"w":10},
{"yr":1978,"p":31.3,"w":15},{"yr":1978,"p":30.1,"w":10},{"yr":1978,"p":29.1,"w":8},{"yr":1978,"p":28.4,"w":13},{"yr":1978,"p":27.8,"w":16},{"yr":1978,"p":27.3,"w":11},{"yr":1978,"p":26.9,"w":12},
{"yr":1978,"p":9.8,"w":16},{"yr":1978,"p":9.2,"w":12},{"yr":1978,"p":8.4,"w":13},{"yr":1978,"p":7.4,"w":8},{"yr":1978,"p":5.6,"w":10},{"yr":1978,"p":2.5,"w":15},
{"yr":1978,"p":-2.3,"w":9},{"yr":1978,"p":-2.7,"w":13},{"yr":1978,"p":-4.3,"w":11},{"yr":1978,"p":-5.6,"w":15},{"yr":1978,"p":-7.1,"w":7},{"yr":1978,"p":-8.3,"w":10},{"yr":1978,"p":-9.4,"w":14},{"yr":1978,"p":-11.0,"w":8},{"yr":1978,"p":-11.9,"w":12},{"yr":1978,"p":-12.7,"w":16},{"yr":1978,"p":-13.3,"w":9},{"yr":1978,"p":-14.2,"w":13},{"yr":1978,"p":-15.6,"w":11},{"yr":1978,"p":-17.1,"w":15},{"yr":1978,"p":-18.5,"w":7},{"yr":1978,"p":-20.2,"w":10},{"yr":1978,"p":-22.4,"w":14},{"yr":1978,"p":-24.4,"w":8},
{"yr":1979,"p":31.8,"w":12},{"yr":1979,"p":30.5,"w":8},{"yr":1979,"p":29.4,"w":15},{"yr":1979,"p":28.6,"w":10},{"yr":1979,"p":28.0,"w":14},{"yr":1979,"p":27.4,"w":9},{"yr":1979,"p":26.9,"w":16},
{"yr":1979,"p":11.1,"w":14},{"yr":1979,"p":10.5,"w":10},{"yr":1979,"p":9.7,"w":16},{"yr":1979,"p":8.7,"w":9},{"yr":1979,"p":5.5,"w":12},{"yr":1979,"p":1.5,"w":8},
{"yr":1979,"p":-1.0,"w":13},{"yr":1979,"p":-2.4,"w":11},{"yr":1979,"p":-3.9,"w":15},{"yr":1979,"p":-5.4,"w":7},{"yr":1979,"p":-6.4,"w":10},{"yr":1979,"p":-7.7,"w":14},{"yr":1979,"p":-9.1,"w":8},{"yr":1979,"p":-10.2,"w":12},{"yr":1979,"p":-11.2,"w":16},{"yr":1979,"p":-12.3,"w":9},{"yr":1979,"p":-14.0,"w":13},{"yr":1979,"p":-15.2,"w":11},{"yr":1979,"p":-16.3,"w":15},{"yr":1979,"p":-17.1,"w":7},{"yr":1979,"p":-18.3,"w":10},{"yr":1979,"p":-19.6,"w":14},{"yr":1979,"p":-21.7,"w":8},{"yr":1979,"p":-22.7,"w":12},{"yr":1979,"p":-24.2,"w":16},{"yr":1979,"p":-26.3,"w":9},
{"yr":1980,"p":32.4,"w":9},{"yr":1980,"p":30.8,"w":14},{"yr":1980,"p":29.6,"w":11},{"yr":1980,"p":28.7,"w":16},{"yr":1980,"p":27.9,"w":8},{"yr":1980,"p":27.3,"w":13},{"yr":1980,"p":26.7,"w":15},
{"yr":1980,"p":11.4,"w":11},{"yr":1980,"p":10.8,"w":15},{"yr":1980,"p":10.0,"w":9},{"yr":1980,"p":9.0,"w":13},{"yr":1980,"p":6.0,"w":8},{"yr":1980,"p":2.2,"w":14},
{"yr":1980,"p":-5.8,"w":15},{"yr":1980,"p":-6.8,"w":7},{"yr":1980,"p":-7.9,"w":10},{"yr":1980,"p":-9.1,"w":14},{"yr":1980,"p":-10.6,"w":8},{"yr":1980,"p":-11.7,"w":12},{"yr":1980,"p":-13.3,"w":16},{"yr":1980,"p":-14.6,"w":9},{"yr":1980,"p":-15.6,"w":13},{"yr":1980,"p":-16.9,"w":11},{"yr":1980,"p":-17.9,"w":15},{"yr":1980,"p":-19.4,"w":7},{"yr":1980,"p":-20.4,"w":10},{"yr":1980,"p":-21.5,"w":14},{"yr":1980,"p":-22.5,"w":8},
{"yr":1981,"p":32.3,"w":15},{"yr":1981,"p":30.7,"w":10},{"yr":1981,"p":29.5,"w":8},{"yr":1981,"p":28.5,"w":13},{"yr":1981,"p":27.8,"w":16},{"yr":1981,"p":27.1,"w":11},{"yr":1981,"p":26.5,"w":12},
{"yr":1981,"p":11.1,"w":16},{"yr":1981,"p":10.5,"w":12},{"yr":1981,"p":9.7,"w":13},{"yr":1981,"p":8.7,"w":8},{"yr":1981,"p":5.5,"w":10},{"yr":1981,"p":1.5,"w":15},
{"yr":1981,"p":-5.2,"w":8},{"yr":1981,"p":-7.5,"w":12},{"yr":1981,"p":-8.7,"w":16},{"yr":1981,"p":-10.2,"w":9},{"yr":1981,"p":-11.4,"w":13},{"yr":1981,"p":-12.5,"w":11},{"yr":1981,"p":-13.9,"w":15},{"yr":1981,"p":-15.6,"w":7},{"yr":1981,"p":-16.9,"w":10},{"yr":1981,"p":-17.5,"w":14},{"yr":1981,"p":-19.0,"w":8},{"yr":1981,"p":-19.8,"w":12},{"yr":1981,"p":-21.7,"w":16},{"yr":1981,"p":-23.6,"w":9},{"yr":1981,"p":-24.4,"w":13},
{"yr":1982,"p":31.5,"w":12},{"yr":1982,"p":30.3,"w":8},{"yr":1982,"p":29.3,"w":15},{"yr":1982,"p":28.5,"w":10},{"yr":1982,"p":27.9,"w":14},{"yr":1982,"p":27.4,"w":9},{"yr":1982,"p":26.9,"w":16},
{"yr":1982,"p":10.8,"w":14},{"yr":1982,"p":10.2,"w":10},{"yr":1982,"p":9.4,"w":16},{"yr":1982,"p":8.4,"w":9},{"yr":1982,"p":5.7,"w":12},{"yr":1982,"p":2.0,"w":8},
{"yr":1982,"p":-1.8,"w":11},{"yr":1982,"p":-2.2,"w":15},{"yr":1982,"p":-4.9,"w":7},{"yr":1982,"p":-6.4,"w":10},{"yr":1982,"p":-8.3,"w":14},{"yr":1982,"p":-10.0,"w":8},{"yr":1982,"p":-11.7,"w":12},{"yr":1982,"p":-13.3,"w":16},{"yr":1982,"p":-14.8,"w":9},{"yr":1982,"p":-16.7,"w":13},{"yr":1982,"p":-18.3,"w":11},{"yr":1982,"p":-19.8,"w":15},{"yr":1982,"p":-20.9,"w":7},{"yr":1982,"p":-22.5,"w":10},{"yr":1982,"p":-27.8,"w":14},
{"yr":1983,"p":31.3,"w":9},{"yr":1983,"p":30.1,"w":14},{"yr":1983,"p":29.2,"w":11},{"yr":1983,"p":28.5,"w":16},{"yr":1983,"p":28.0,"w":8},{"yr":1983,"p":27.5,"w":13},{"yr":1983,"p":27.1,"w":15},
{"yr":1983,"p":12.4,"w":11},{"yr":1983,"p":11.8,"w":15},{"yr":1983,"p":11.0,"w":9},{"yr":1983,"p":10.0,"w":13},{"yr":1983,"p":7.5,"w":8},{"yr":1983,"p":4.0,"w":14},
{"yr":1983,"p":-4.1,"w":16},{"yr":1983,"p":-7.2,"w":9},{"yr":1983,"p":-9.5,"w":13},{"yr":1983,"p":-11.4,"w":11},{"yr":1983,"p":-12.5,"w":15},{"yr":1983,"p":-14.0,"w":7},{"yr":1983,"p":-16.0,"w":10},{"yr":1983,"p":-17.9,"w":14},{"yr":1983,"p":-19.6,"w":8},{"yr":1983,"p":-21.5,"w":12},{"yr":1983,"p":-23.0,"w":16},{"yr":1983,"p":-27.1,"w":9},
{"yr":1984,"p":31.5,"w":15},{"yr":1984,"p":30.4,"w":10},{"yr":1984,"p":29.5,"w":8},{"yr":1984,"p":28.8,"w":13},{"yr":1984,"p":28.3,"w":16},{"yr":1984,"p":27.8,"w":11},{"yr":1984,"p":27.4,"w":12},
{"yr":1984,"p":12.8,"w":16},{"yr":1984,"p":12.2,"w":12},{"yr":1984,"p":11.4,"w":13},{"yr":1984,"p":10.4,"w":8},{"yr":1984,"p":7.6,"w":10},{"yr":1984,"p":3.8,"w":15},
{"yr":1984,"p":-5.6,"w":13},{"yr":1984,"p":-7.2,"w":11},{"yr":1984,"p":-8.3,"w":15},{"yr":1984,"p":-10.2,"w":7},{"yr":1984,"p":-11.7,"w":10},{"yr":1984,"p":-12.9,"w":14},{"yr":1984,"p":-14.0,"w":8},{"yr":1984,"p":-16.0,"w":12},{"yr":1984,"p":-17.9,"w":16},{"yr":1984,"p":-19.4,"w":9},{"yr":1984,"p":-22.1,"w":13},{"yr":1984,"p":-25.9,"w":11},
{"yr":1985,"p":30.3,"w":12},{"yr":1985,"p":29.8,"w":8},{"yr":1985,"p":29.4,"w":15},{"yr":1985,"p":29.0,"w":10},{"yr":1985,"p":28.6,"w":14},
{"yr":1985,"p":10.8,"w":14},{"yr":1985,"p":10.2,"w":10},{"yr":1985,"p":9.4,"w":16},{"yr":1985,"p":8.4,"w":9},{"yr":1985,"p":5.4,"w":12},{"yr":1985,"p":1.5,"w":8},
{"yr":1985,"p":-2.2,"w":10},{"yr":1985,"p":-2.6,"w":14},{"yr":1985,"p":-5.2,"w":8},{"yr":1985,"p":-7.2,"w":12},{"yr":1985,"p":-8.7,"w":16},{"yr":1985,"p":-10.6,"w":9},{"yr":1985,"p":-12.1,"w":13},{"yr":1985,"p":-13.3,"w":11},{"yr":1985,"p":-14.8,"w":15},{"yr":1985,"p":-16.9,"w":7},{"yr":1985,"p":-18.6,"w":10},{"yr":1985,"p":-21.7,"w":14},{"yr":1985,"p":-23.4,"w":8},{"yr":1985,"p":-25.5,"w":12},
{"yr":1986,"p":31.3,"w":9},{"yr":1986,"p":30.4,"w":14},{"yr":1986,"p":29.7,"w":11},{"yr":1986,"p":29.1,"w":16},{"yr":1986,"p":28.7,"w":8},{"yr":1986,"p":28.3,"w":13},{"yr":1986,"p":28.0,"w":15},
{"yr":1986,"p":9.4,"w":11},{"yr":1986,"p":8.8,"w":15},{"yr":1986,"p":8.0,"w":9},{"yr":1986,"p":7.0,"w":13},{"yr":1986,"p":3.7,"w":8},{"yr":1986,"p":-0.3,"w":14},
{"yr":1986,"p":-0.5,"w":15},{"yr":1986,"p":-3.3,"w":7},{"yr":1986,"p":-5.2,"w":10},{"yr":1986,"p":-6.6,"w":14},{"yr":1986,"p":-8.7,"w":8},{"yr":1986,"p":-10.6,"w":12},{"yr":1986,"p":-11.7,"w":16},{"yr":1986,"p":-13.5,"w":9},{"yr":1986,"p":-14.8,"w":13},{"yr":1986,"p":-15.6,"w":11},{"yr":1986,"p":-17.1,"w":15},{"yr":1986,"p":-19.0,"w":7},{"yr":1986,"p":-21.7,"w":10},{"yr":1986,"p":-23.4,"w":14},{"yr":1986,"p":-26.7,"w":8},
{"yr":1987,"p":31.0,"w":15},{"yr":1987,"p":30.2,"w":10},{"yr":1987,"p":29.5,"w":8},{"yr":1987,"p":28.9,"w":13},{"yr":1987,"p":28.4,"w":16},
{"yr":1987,"p":9.8,"w":16},{"yr":1987,"p":9.2,"w":12},{"yr":1987,"p":8.4,"w":13},{"yr":1987,"p":7.4,"w":8},{"yr":1987,"p":5.4,"w":10},{"yr":1987,"p":2.2,"w":15},
{"yr":1987,"p":-4.7,"w":12},{"yr":1987,"p":-7.2,"w":16},{"yr":1987,"p":-8.3,"w":9},{"yr":1987,"p":-9.8,"w":13},{"yr":1987,"p":-11.4,"w":11},{"yr":1987,"p":-12.7,"w":15},{"yr":1987,"p":-14.0,"w":7},{"yr":1987,"p":-15.6,"w":10},{"yr":1987,"p":-17.1,"w":14},{"yr":1987,"p":-18.6,"w":8},{"yr":1987,"p":-20.9,"w":12},{"yr":1987,"p":-23.2,"w":16},{"yr":1987,"p":-25.9,"w":9},
{"yr":1988,"p":30.4,"w":12},{"yr":1988,"p":29.8,"w":8},{"yr":1988,"p":29.3,"w":15},{"yr":1988,"p":28.8,"w":10},
{"yr":1988,"p":10.8,"w":14},{"yr":1988,"p":10.2,"w":10},{"yr":1988,"p":9.4,"w":16},{"yr":1988,"p":8.4,"w":9},{"yr":1988,"p":5.4,"w":12},{"yr":1988,"p":1.5,"w":8},
{"yr":1988,"p":-1.8,"w":13},{"yr":1988,"p":-3.1,"w":11},{"yr":1988,"p":-5.2,"w":15},{"yr":1988,"p":-6.4,"w":7},{"yr":1988,"p":-7.7,"w":10},{"yr":1988,"p":-8.9,"w":14},{"yr":1988,"p":-10.6,"w":8},{"yr":1988,"p":-11.7,"w":12},{"yr":1988,"p":-13.1,"w":16},{"yr":1988,"p":-14.4,"w":9},{"yr":1988,"p":-15.6,"w":13},{"yr":1988,"p":-16.9,"w":11},{"yr":1988,"p":-18.3,"w":15},{"yr":1988,"p":-19.6,"w":7},{"yr":1988,"p":-20.9,"w":10},{"yr":1988,"p":-22.5,"w":14},{"yr":1988,"p":-23.6,"w":8},{"yr":1988,"p":-25.7,"w":12},{"yr":1988,"p":-27.8,"w":16},
{"yr":1989,"p":30.7,"w":9},{"yr":1989,"p":30.1,"w":14},{"yr":1989,"p":29.6,"w":11},{"yr":1989,"p":29.1,"w":16},
{"yr":1989,"p":11.1,"w":11},{"yr":1989,"p":10.5,"w":15},{"yr":1989,"p":9.7,"w":9},{"yr":1989,"p":8.7,"w":13},{"yr":1989,"p":5.9,"w":8},{"yr":1989,"p":2.2,"w":14},
{"yr":1989,"p":-3.5,"w":9},{"yr":1989,"p":-4.5,"w":13},{"yr":1989,"p":-6.2,"w":11},{"yr":1989,"p":-8.3,"w":15},{"yr":1989,"p":-10.2,"w":7},{"yr":1989,"p":-11.7,"w":10},{"yr":1989,"p":-13.3,"w":14},{"yr":1989,"p":-14.8,"w":8},{"yr":1989,"p":-16.3,"w":12},{"yr":1989,"p":-17.9,"w":16},{"yr":1989,"p":-19.4,"w":9},{"yr":1989,"p":-20.9,"w":13},{"yr":1989,"p":-22.5,"w":11},{"yr":1989,"p":-24.8,"w":15},{"yr":1989,"p":-27.1,"w":7},
{"yr":1990,"p":30.5,"w":15},{"yr":1990,"p":29.9,"w":10},{"yr":1990,"p":29.4,"w":8},
{"yr":1990,"p":12.1,"w":16},{"yr":1990,"p":11.5,"w":12},{"yr":1990,"p":10.7,"w":13},{"yr":1990,"p":9.7,"w":8},{"yr":1990,"p":5.9,"w":10},{"yr":1990,"p":1.5,"w":15},
{"yr":1990,"p":-1.8,"w":14},{"yr":1990,"p":-2.2,"w":9},{"yr":1990,"p":-3.3,"w":8},{"yr":1990,"p":-5.2,"w":12},{"yr":1990,"p":-6.6,"w":16},{"yr":1990,"p":-8.5,"w":9},{"yr":1990,"p":-11.0,"w":13},{"yr":1990,"p":-12.5,"w":11},{"yr":1990,"p":-14.0,"w":15},{"yr":1990,"p":-16.3,"w":7},{"yr":1990,"p":-17.9,"w":10},{"yr":1990,"p":-19.2,"w":14},{"yr":1990,"p":-21.1,"w":8},{"yr":1990,"p":-22.5,"w":12},{"yr":1990,"p":-24.8,"w":16},{"yr":1990,"p":-27.1,"w":9},
{"yr":1991,"p":31.3,"w":12},{"yr":1991,"p":30.7,"w":8},{"yr":1991,"p":30.2,"w":15},
{"yr":1991,"p":12.4,"w":14},{"yr":1991,"p":11.8,"w":10},{"yr":1991,"p":11.0,"w":16},{"yr":1991,"p":10.0,"w":9},{"yr":1991,"p":7.4,"w":12},{"yr":1991,"p":3.8,"w":8},
{"yr":1991,"p":-2.4,"w":13},{"yr":1991,"p":-4.5,"w":11},{"yr":1991,"p":-6.8,"w":15},{"yr":1991,"p":-8.9,"w":7},{"yr":1991,"p":-11.0,"w":10},{"yr":1991,"p":-12.5,"w":14},{"yr":1991,"p":-14.0,"w":8},{"yr":1991,"p":-16.3,"w":12},{"yr":1991,"p":-17.9,"w":16},{"yr":1991,"p":-19.4,"w":9},{"yr":1991,"p":-21.3,"w":13},{"yr":1991,"p":-24.0,"w":11},{"yr":1991,"p":-27.1,"w":15},{"yr":1991,"p":-28.0,"w":7},
{"yr":1992,"p":31.5,"w":9},{"yr":1992,"p":30.9,"w":14},{"yr":1992,"p":30.4,"w":11},
{"yr":1992,"p":13.6,"w":11},{"yr":1992,"p":13.0,"w":15},{"yr":1992,"p":12.2,"w":9},{"yr":1992,"p":11.2,"w":13},{"yr":1992,"p":7.1,"w":8},{"yr":1992,"p":2.5,"w":14},
{"yr":1992,"p":-2.7,"w":16},{"yr":1992,"p":-4.5,"w":9},{"yr":1992,"p":-6.3,"w":13},{"yr":1992,"p":-7.5,"w":11},{"yr":1992,"p":-9.0,"w":15},{"yr":1992,"p":-10.2,"w":7},{"yr":1992,"p":-11.5,"w":10},{"yr":1992,"p":-12.7,"w":14},{"yr":1992,"p":-14.1,"w":8},{"yr":1992,"p":-15.5,"w":12},{"yr":1992,"p":-17.2,"w":16},{"yr":1992,"p":-18.7,"w":9},{"yr":1992,"p":-20.5,"w":13},{"yr":1992,"p":-22.7,"w":11},
{"yr":1993,"p":31.7,"w":15},{"yr":1993,"p":31.1,"w":10},{"yr":1993,"p":30.7,"w":8},
{"yr":1993,"p":15.3,"w":16},{"yr":1993,"p":14.7,"w":12},{"yr":1993,"p":13.9,"w":13},{"yr":1993,"p":12.9,"w":8},{"yr":1993,"p":7.0,"w":10},{"yr":1993,"p":1.5,"w":15},
{"yr":1993,"p":-6.3,"w":10},{"yr":1993,"p":-7.3,"w":14},{"yr":1993,"p":-8.7,"w":8},{"yr":1993,"p":-9.5,"w":12},{"yr":1993,"p":-11.0,"w":16},{"yr":1993,"p":-12.0,"w":9},{"yr":1993,"p":-13.2,"w":13},{"yr":1993,"p":-13.7,"w":11},{"yr":1993,"p":-14.7,"w":15},{"yr":1993,"p":-15.5,"w":7},{"yr":1993,"p":-16.5,"w":10},{"yr":1993,"p":-17.7,"w":14},{"yr":1993,"p":-18.2,"w":8},{"yr":1993,"p":-19.5,"w":12},{"yr":1993,"p":-20.5,"w":16},{"yr":1993,"p":-21.5,"w":9},{"yr":1993,"p":-22.2,"w":13},
{"yr":1994,"p":34.9,"w":12},{"yr":1994,"p":33.5,"w":8},{"yr":1994,"p":32.5,"w":15},{"yr":1994,"p":31.7,"w":10},{"yr":1994,"p":31.0,"w":14},{"yr":1994,"p":30.4,"w":9},{"yr":1994,"p":29.9,"w":16},
{"yr":1994,"p":14.4,"w":14},{"yr":1994,"p":13.8,"w":10},{"yr":1994,"p":13.0,"w":16},{"yr":1994,"p":12.0,"w":9},{"yr":1994,"p":6.8,"w":12},{"yr":1994,"p":1.5,"w":8},
{"yr":1994,"p":-5.3,"w":7},{"yr":1994,"p":-6.2,"w":10},{"yr":1994,"p":-7.5,"w":14},{"yr":1994,"p":-8.5,"w":8},{"yr":1994,"p":-9.8,"w":12},{"yr":1994,"p":-11.0,"w":16},{"yr":1994,"p":-12.7,"w":9},{"yr":1994,"p":-13.8,"w":13},{"yr":1994,"p":-15.5,"w":11},{"yr":1994,"p":-17.0,"w":15},{"yr":1994,"p":-18.5,"w":7},{"yr":1994,"p":-19.8,"w":10},{"yr":1994,"p":-21.7,"w":14},{"yr":1994,"p":-24.2,"w":8},
{"yr":1995,"p":33.0,"w":9},{"yr":1995,"p":32.2,"w":14},{"yr":1995,"p":31.5,"w":11},{"yr":1995,"p":31.0,"w":16},{"yr":1995,"p":30.6,"w":8},{"yr":1995,"p":30.3,"w":13},{"yr":1995,"p":30.0,"w":15},
{"yr":1995,"p":14.4,"w":11},{"yr":1995,"p":13.8,"w":15},{"yr":1995,"p":13.0,"w":9},{"yr":1995,"p":12.0,"w":13},{"yr":1995,"p":8.9,"w":8},{"yr":1995,"p":5.0,"w":14},
{"yr":1995,"p":-8.8,"w":12},{"yr":1995,"p":-9.5,"w":16},{"yr":1995,"p":-10.5,"w":9},{"yr":1995,"p":-11.5,"w":13},{"yr":1995,"p":-12.7,"w":11},{"yr":1995,"p":-13.8,"w":15},{"yr":1995,"p":-14.7,"w":7},{"yr":1995,"p":-15.8,"w":10},{"yr":1995,"p":-16.5,"w":14},{"yr":1995,"p":-17.5,"w":8},{"yr":1995,"p":-19.8,"w":12},{"yr":1995,"p":-21.7,"w":16},
{"yr":1996,"p":32.5,"w":15},{"yr":1996,"p":31.9,"w":10},{"yr":1996,"p":31.4,"w":8},{"yr":1996,"p":31.0,"w":13},{"yr":1996,"p":30.7,"w":16},{"yr":1996,"p":30.4,"w":11},
{"yr":1996,"p":13.1,"w":16},{"yr":1996,"p":12.5,"w":12},{"yr":1996,"p":11.7,"w":13},{"yr":1996,"p":10.7,"w":8},{"yr":1996,"p":9.6,"w":10},{"yr":1996,"p":8.0,"w":15},
{"yr":1996,"p":-4.3,"w":9},{"yr":1996,"p":-5.8,"w":13},{"yr":1996,"p":-6.7,"w":11},{"yr":1996,"p":-7.2,"w":15},{"yr":1996,"p":-10.3,"w":7},{"yr":1996,"p":-11.0,"w":10},{"yr":1996,"p":-12.8,"w":14},{"yr":1996,"p":-13.8,"w":8},{"yr":1996,"p":-15.2,"w":12},{"yr":1996,"p":-16.2,"w":16},{"yr":1996,"p":-17.7,"w":9},{"yr":1996,"p":-19.5,"w":13},{"yr":1996,"p":-20.8,"w":11},{"yr":1996,"p":-23.5,"w":15},
{"yr":1997,"p":33.0,"w":12},{"yr":1997,"p":32.4,"w":8},{"yr":1997,"p":31.9,"w":15},{"yr":1997,"p":31.5,"w":10},{"yr":1997,"p":31.2,"w":14},{"yr":1997,"p":30.9,"w":9},
{"yr":1997,"p":13.8,"w":14},{"yr":1997,"p":13.2,"w":10},{"yr":1997,"p":12.4,"w":16},{"yr":1997,"p":11.4,"w":9},{"yr":1997,"p":7.2,"w":12},{"yr":1997,"p":2.5,"w":8},
{"yr":1997,"p":-1.2,"w":15},{"yr":1997,"p":-2.2,"w":7},{"yr":1997,"p":-3.5,"w":10},{"yr":1997,"p":-5.2,"w":14},{"yr":1997,"p":-7.2,"w":8},{"yr":1997,"p":-8.7,"w":12},{"yr":1997,"p":-10.5,"w":16},{"yr":1997,"p":-11.7,"w":9},{"yr":1997,"p":-13.2,"w":13},{"yr":1997,"p":-14.2,"w":11},{"yr":1997,"p":-15.5,"w":15},{"yr":1997,"p":-17.2,"w":7},{"yr":1997,"p":-18.3,"w":10},{"yr":1997,"p":-19.5,"w":14},{"yr":1997,"p":-21.2,"w":8},{"yr":1997,"p":-22.8,"w":12},{"yr":1997,"p":-25.2,"w":16},
{"yr":1998,"p":33.5,"w":9},{"yr":1998,"p":32.8,"w":14},{"yr":1998,"p":32.2,"w":11},{"yr":1998,"p":31.8,"w":16},{"yr":1998,"p":31.5,"w":8},{"yr":1998,"p":31.2,"w":13},{"yr":1998,"p":30.9,"w":15},
{"yr":1998,"p":14.8,"w":11},{"yr":1998,"p":14.2,"w":15},{"yr":1998,"p":13.4,"w":9},{"yr":1998,"p":12.4,"w":13},{"yr":1998,"p":8.2,"w":8},{"yr":1998,"p":2.5,"w":14},
{"yr":1998,"p":-6.5,"w":10},{"yr":1998,"p":-9.2,"w":14},{"yr":1998,"p":-10.5,"w":8},{"yr":1998,"p":-11.7,"w":12},{"yr":1998,"p":-12.8,"w":16},{"yr":1998,"p":-14.2,"w":9},{"yr":1998,"p":-15.5,"w":13},{"yr":1998,"p":-16.8,"w":11},{"yr":1998,"p":-18.2,"w":15},{"yr":1998,"p":-19.5,"w":7},{"yr":1998,"p":-20.8,"w":10},{"yr":1998,"p":-22.8,"w":14},{"yr":1998,"p":-24.2,"w":8},{"yr":1998,"p":-26.2,"w":12},
{"yr":1999,"p":34.5,"w":15},{"yr":1999,"p":33.7,"w":10},{"yr":1999,"p":33.1,"w":8},{"yr":1999,"p":32.7,"w":13},{"yr":1999,"p":32.3,"w":16},{"yr":1999,"p":32.0,"w":11},{"yr":1999,"p":31.7,"w":12},
{"yr":1999,"p":14.4,"w":16},{"yr":1999,"p":13.8,"w":12},{"yr":1999,"p":13.0,"w":13},{"yr":1999,"p":12.0,"w":8},{"yr":1999,"p":10.6,"w":10},{"yr":1999,"p":7.8,"w":15},
{"yr":1999,"p":-2.8,"w":14},{"yr":1999,"p":-4.2,"w":8},{"yr":1999,"p":-7.5,"w":12},{"yr":1999,"p":-9.2,"w":16},{"yr":1999,"p":-10.5,"w":9},{"yr":1999,"p":-12.2,"w":13},{"yr":1999,"p":-13.5,"w":11},{"yr":1999,"p":-14.8,"w":15},{"yr":1999,"p":-16.3,"w":7},{"yr":1999,"p":-17.5,"w":10},{"yr":1999,"p":-18.8,"w":14},{"yr":1999,"p":-20.2,"w":8},{"yr":1999,"p":-21.5,"w":12},{"yr":1999,"p":-23.7,"w":16},{"yr":1999,"p":-25.3,"w":9},
{"yr":2000,"p":34.0,"w":12},{"yr":2000,"p":33.4,"w":8},{"yr":2000,"p":32.9,"w":15},{"yr":2000,"p":32.5,"w":10},{"yr":2000,"p":32.2,"w":14},{"yr":2000,"p":31.9,"w":9},
{"yr":2000,"p":14.1,"w":14},{"yr":2000,"p":13.5,"w":10},{"yr":2000,"p":12.7,"w":16},{"yr":2000,"p":11.7,"w":9},{"yr":2000,"p":9.1,"w":12},{"yr":2000,"p":5.5,"w":8},
{"yr":2000,"p":-5.3,"w":13},{"yr":2000,"p":-7.0,"w":11},{"yr":2000,"p":-9.2,"w":15},{"yr":2000,"p":-10.5,"w":7},{"yr":2000,"p":-12.8,"w":10},{"yr":2000,"p":-14.2,"w":14},{"yr":2000,"p":-15.5,"w":8},{"yr":2000,"p":-16.8,"w":12},{"yr":2000,"p":-18.2,"w":16},{"yr":2000,"p":-20.0,"w":9},{"yr":2000,"p":-21.7,"w":13},{"yr":2000,"p":-23.5,"w":11},{"yr":2000,"p":-25.5,"w":15},
{"yr":2001,"p":36.0,"w":9},{"yr":2001,"p":34.9,"w":14},{"yr":2001,"p":34.1,"w":11},{"yr":2001,"p":33.4,"w":16},{"yr":2001,"p":32.9,"w":8},{"yr":2001,"p":32.4,"w":13},{"yr":2001,"p":32.0,"w":15},
{"yr":2001,"p":13.8,"w":11},{"yr":2001,"p":13.2,"w":15},{"yr":2001,"p":12.4,"w":9},{"yr":2001,"p":11.4,"w":13},{"yr":2001,"p":6.6,"w":8},{"yr":2001,"p":1.5,"w":14},{"yr":2001,"p":-0.8,"w":10},
{"yr":2001,"p":-1.0,"w":16},{"yr":2001,"p":-5.7,"w":9},{"yr":2001,"p":-9.5,"w":13},{"yr":2001,"p":-11.7,"w":11},{"yr":2001,"p":-12.8,"w":15},{"yr":2001,"p":-14.8,"w":7},{"yr":2001,"p":-16.8,"w":10},{"yr":2001,"p":-18.3,"w":14},{"yr":2001,"p":-19.8,"w":8},{"yr":2001,"p":-22.8,"w":12},{"yr":2001,"p":-26.2,"w":16},
{"yr":2002,"p":36.0,"w":15},{"yr":2002,"p":35.0,"w":10},{"yr":2002,"p":34.2,"w":8},{"yr":2002,"p":33.6,"w":13},{"yr":2002,"p":33.1,"w":16},{"yr":2002,"p":32.7,"w":11},{"yr":2002,"p":32.3,"w":12},
{"yr":2002,"p":14.1,"w":16},{"yr":2002,"p":13.5,"w":12},{"yr":2002,"p":12.7,"w":13},{"yr":2002,"p":11.9,"w":8},{"yr":2002,"p":11.1,"w":10},{"yr":2002,"p":10.2,"w":15},
{"yr":2002,"p":-8.2,"w":11},{"yr":2002,"p":-9.5,"w":15},{"yr":2002,"p":-11.2,"w":7},{"yr":2002,"p":-12.2,"w":10},{"yr":2002,"p":-13.5,"w":14},{"yr":2002,"p":-14.8,"w":8},{"yr":2002,"p":-16.5,"w":12},{"yr":2002,"p":-18.2,"w":16},{"yr":2002,"p":-19.2,"w":9},{"yr":2002,"p":-20.8,"w":13},{"yr":2002,"p":-23.5,"w":11},{"yr":2002,"p":-25.8,"w":15},
{"yr":2003,"p":35.9,"w":12},{"yr":2003,"p":35.0,"w":8},{"yr":2003,"p":34.4,"w":15},{"yr":2003,"p":33.9,"w":10},{"yr":2003,"p":33.5,"w":14},{"yr":2003,"p":33.1,"w":9},{"yr":2003,"p":32.8,"w":16},
{"yr":2003,"p":15.1,"w":14},{"yr":2003,"p":14.5,"w":10},{"yr":2003,"p":13.8,"w":16},{"yr":2003,"p":13.2,"w":9},{"yr":2003,"p":12.5,"w":12},
{"yr":2003,"p":-1.5,"w":8},{"yr":2003,"p":-1.7,"w":12},{"yr":2003,"p":-3.2,"w":16},{"yr":2003,"p":-4.7,"w":9},{"yr":2003,"p":-5.8,"w":13},{"yr":2003,"p":-7.5,"w":11},{"yr":2003,"p":-10.5,"w":15},{"yr":2003,"p":-11.7,"w":7},{"yr":2003,"p":-12.8,"w":10},{"yr":2003,"p":-14.3,"w":14},{"yr":2003,"p":-15.5,"w":8},{"yr":2003,"p":-16.8,"w":12},{"yr":2003,"p":-18.2,"w":16},{"yr":2003,"p":-19.5,"w":9},{"yr":2003,"p":-20.8,"w":13},{"yr":2003,"p":-22.2,"w":11},{"yr":2003,"p":-23.8,"w":15},{"yr":2003,"p":-25.8,"w":7},
{"yr":2004,"p":36.3,"w":9},{"yr":2004,"p":35.3,"w":14},{"yr":2004,"p":34.6,"w":11},{"yr":2004,"p":34.0,"w":16},{"yr":2004,"p":33.6,"w":8},{"yr":2004,"p":33.1,"w":13},{"yr":2004,"p":32.8,"w":15},
{"yr":2004,"p":14.4,"w":11},{"yr":2004,"p":13.8,"w":15},{"yr":2004,"p":13.0,"w":9},{"yr":2004,"p":12.0,"w":13},{"yr":2004,"p":9.8,"w":8},{"yr":2004,"p":6.5,"w":14},
{"yr":2004,"p":-5.7,"w":10},{"yr":2004,"p":-8.3,"w":14},{"yr":2004,"p":-9.5,"w":8},{"yr":2004,"p":-10.5,"w":12},{"yr":2004,"p":-11.2,"w":16},{"yr":2004,"p":-12.0,"w":9},{"yr":2004,"p":-12.8,"w":13},{"yr":2004,"p":-13.5,"w":11},{"yr":2004,"p":-14.8,"w":15},{"yr":2004,"p":-16.2,"w":7},{"yr":2004,"p":-17.5,"w":10},{"yr":2004,"p":-18.8,"w":14},{"yr":2004,"p":-20.2,"w":8},{"yr":2004,"p":-21.5,"w":12},{"yr":2004,"p":-22.8,"w":16},{"yr":2004,"p":-24.2,"w":9},{"yr":2004,"p":-25.8,"w":13},{"yr":2004,"p":-27.7,"w":11},
{"yr":2005,"p":36.3,"w":15},{"yr":2005,"p":35.1,"w":10},{"yr":2005,"p":34.5,"w":8},{"yr":2005,"p":33.9,"w":13},{"yr":2005,"p":33.5,"w":16},{"yr":2005,"p":33.1,"w":11},{"yr":2005,"p":32.8,"w":12},
{"yr":2005,"p":13.8,"w":16},{"yr":2005,"p":13.2,"w":12},{"yr":2005,"p":12.4,"w":13},{"yr":2005,"p":11.4,"w":8},{"yr":2005,"p":6.2,"w":10},{"yr":2005,"p":0.8,"w":15},
{"yr":2005,"p":-3.5,"w":13},{"yr":2005,"p":-5.0,"w":11},{"yr":2005,"p":-7.2,"w":15},{"yr":2005,"p":-9.2,"w":7},{"yr":2005,"p":-10.5,"w":10},{"yr":2005,"p":-11.5,"w":14},{"yr":2005,"p":-12.8,"w":8},{"yr":2005,"p":-14.2,"w":12},{"yr":2005,"p":-15.5,"w":16},{"yr":2005,"p":-16.8,"w":9},{"yr":2005,"p":-18.2,"w":13},{"yr":2005,"p":-19.5,"w":11},{"yr":2005,"p":-20.8,"w":15},{"yr":2005,"p":-22.5,"w":7},{"yr":2005,"p":-24.5,"w":10},{"yr":2005,"p":-26.5,"w":14}
],
"coke":[
{"yr":1963,"p":22.6},{"yr":1964,"p":22.8},{"yr":1965,"p":22.9},{"yr":1966,"p":23.4},{"yr":1967,"p":23.75},{"yr":1968,"p":23.93},{"yr":1969,"p":23.98},{"yr":1970,"p":23.43},{"yr":1971,"p":23.85},{"yr":1972,"p":24.2},{"yr":1973,"p":24.4},{"yr":1974,"p":24.48},{"yr":1975,"p":24.47},{"yr":1976,"p":24.17},{"yr":1977,"p":24.4},{"yr":1978,"p":24.47},{"yr":1979,"p":24.65},{"yr":1980,"p":24.9},{"yr":1981,"p":25.32},{"yr":1982,"p":26.02},{"yr":1983,"p":25.82},{"yr":1984,"p":26.07},{"yr":1985,"p":27.57},{"yr":1986,"p":26.67},{"yr":1987,"p":27.08},{"yr":1988,"p":27.08},{"yr":1989,"p":27.88},{"yr":1990,"p":28.27},{"yr":1991,"p":28.7},{"yr":1992,"p":29.12},{"yr":1993,"p":29.6},{"yr":1994,"p":27.45},{"yr":1995,"p":27.73},{"yr":1996,"p":27.25},{"yr":1997,"p":29.18},{"yr":1998,"p":28.24},{"yr":1999,"p":29.32},{"yr":2000,"p":29.52},{"yr":2001,"p":29.45},{"yr":2002,"p":29.47},{"yr":2003,"p":29.88},{"yr":2004,"p":29.82},{"yr":2005,"p":30.24}
]
},
"encoding":{
"x":{"field":"yr","type":"quantitative","scale":{"domain":[1963.37,2006.66],"nice":false,"zero":false},"axis":null},
"y":{"field":"p","type":"quantitative","scale":{"domain":[-28.2,42.5],"nice":false,"zero":false},"axis":null}
},
"layer":[
{"data":{"name":"core"},"mark":{"type":"bar","color":"#cbcbcb","clip":true},
 "encoding":{"y2":{"field":"q"},"size":{"field":"w","type":"quantitative","scale":null}}},
{"data":{"name":"stripe"},"mark":{"type":"tick","orient":"horizontal","thickness":1.3,"color":"#ffffff","opacity":1,"clip":true},
 "encoding":{"size":{"field":"w","type":"quantitative","scale":null}}},
{"data":{"name":"dash"},"mark":{"type":"tick","orient":"horizontal","thickness":1.1,"color":"#c8c8c8","opacity":1,"clip":true},
 "encoding":{"size":{"field":"w","type":"quantitative","scale":null}}},
{"data":{"name":"coke"},"mark":{"type":"line","color":"#8c1f1f","strokeWidth":2.2,"clip":true},"encoding":{}},
{"data":{"name":"coke"},"mark":{"type":"circle","color":"#6b0e0e","size":38,"opacity":1,"clip":true},"encoding":{}},
{"data":{"values":[{"yr":2001.23,"yr2":2008,"p":28.33,"q":22.33}]},
 "mark":{"type":"rect","fill":"white","fillOpacity":0.92,"stroke":"#aaaaaa","strokeWidth":1},
 "encoding":{"x2":{"field":"yr2"},"y2":{"field":"q"}}},
{"data":{"values":[{"yr":2005,"p":28.8}]},
 "mark":{"type":"point","shape":"M-1,0.8L0,-0.8L1,0.8","size":225,"fill":"white","stroke":"#aaaaaa","strokeWidth":1,"fillOpacity":1,"opacity":1},"encoding":{}},
{"data":{"values":[{"yr":2003.97,"p":26.4,"t":"Coca-Cola"},{"yr":2004.0,"p":24.4,"t":"$6,8 billion"}]},
 "mark":{"type":"text","font":"DejaVu Serif","fontSize":15,"color":"#333333","align":"center","baseline":"middle"},
 "encoding":{"text":{"field":"t"}}},
{"data":{"values":[{"yr":1968.1,"p":40.6,"t":"order by:"},{"yr":2001.71,"p":40.6,"t":"adjust for inflation"}]},
 "mark":{"type":"text","font":"DejaVu Serif","fontStyle":"italic","fontSize":15,"color":"#777777","align":"center","baseline":"middle"},
 "encoding":{"text":{"field":"t"}}},
{"data":{"values":[{"yr":1973.06,"p":40.7,"t":"RANK"},{"yr":1979.19,"p":40.7,"t":"REVENUE"}]},
 "mark":{"type":"text","font":"DejaVu Serif","fontWeight":"bold","fontSize":16,"color":"#666666","align":"center","baseline":"middle"},
 "encoding":{"text":{"field":"t"}}},
{"data":{"values":[{"yr":1985.79,"p":40.7,"t":"PROFIT"}]},
 "mark":{"type":"text","font":"DejaVu Serif","fontWeight":"bold","fontSize":16,"color":"#111111","align":"center","baseline":"middle"},
 "encoding":{"text":{"field":"t"}}},
{"data":{"values":[{"yr":1983.1,"yr2":1988.19,"p":38.7}]},
 "mark":{"type":"rule","color":"#888888","strokeWidth":1},
 "encoding":{"x2":{"field":"yr2"}}},
{"data":{"values":[{"yr":1985.64,"p":38.75,"t":"∞∞∞"}]},
 "mark":{"type":"text","font":"DejaVu Sans","fontWeight":"bold","fontSize":14,"color":"#333333","align":"center","baseline":"middle"},
 "encoding":{"text":{"field":"t"}}},
{"data":{"values":[{"yr":1996.77,"yr2":1997.69,"p":41.6,"q":39.7}]},
 "mark":{"type":"rect","fill":"white","stroke":"#999999","strokeWidth":1},
 "encoding":{"x2":{"field":"yr2"},"y2":{"field":"q"}}},
{"data":{"values":[{"yr":1997.23,"p":40.6,"t":"X"}]},
 "mark":{"type":"text","font":"DejaVu Serif","fontStyle":"italic","fontWeight":"bold","fontSize":14,"color":"#444444","align":"center","baseline":"middle"},
 "encoding":{"text":{"field":"t"}}}
]
}
